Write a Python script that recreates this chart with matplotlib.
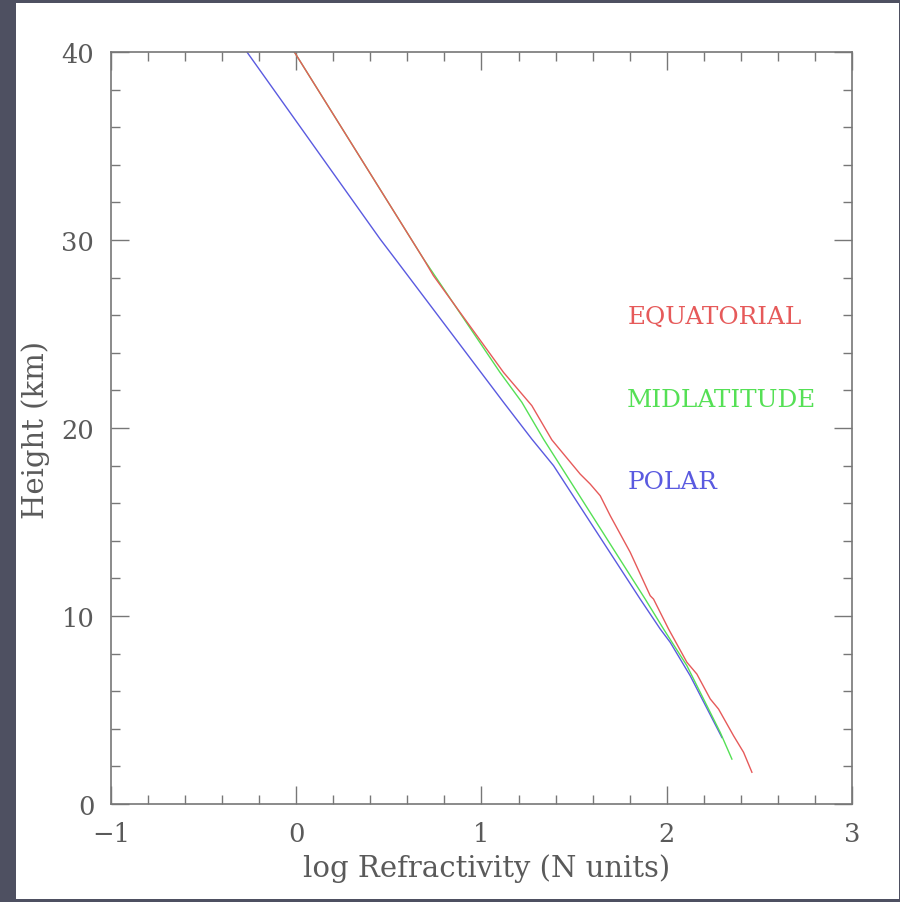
import matplotlib.pyplot as plt
from matplotlib.patches import Rectangle
import numpy as np

# refractivity profiles: height (km) vs log10 N
eq_h = [40, 29.0, 28.1, 22.96, 21.19, 19.37, 17.55, 17.02, 16.4, 15.34, 13.39,
        11.08, 10.9, 9.31, 7.54, 6.91, 5.59, 5.05, 3.63, 2.75, 1.69]
eq_logn = [-0.01, 0.687, 0.741, 1.119, 1.272, 1.38, 1.533, 1.587, 1.641, 1.695, 1.803,
           1.911, 1.929, 2.01, 2.109, 2.163, 2.235, 2.28, 2.361, 2.415, 2.46]

mid_h = [40, 29.0, 22.96, 21.37, 19.41, 10.9, 9.31, 7.36, 3.81, 2.39]
mid_logn = [-0.01, 0.687, 1.10, 1.218, 1.335, 1.884, 1.983, 2.109, 2.289, 2.352]

pol_h = [40, 30.05, 29.0, 21.37, 19.41, 18.0, 10.9, 9.31, 8.6, 6.82, 3.54]
pol_logn = [-0.266, 0.453, 0.534, 1.119, 1.272, 1.389, 1.857, 1.965, 2.019, 2.127, 2.298]

names = ['EQUATORIAL', 'MIDLATITUDE', 'POLAR']
name_y = [25.96, 21.54, 17.18]
colores = ['#e65a5a', '#55e055', '#5a5ae0']

fig = plt.figure(figsize=(9, 9.03), dpi=100, facecolor='#4e5061')
fig.patches.append(Rectangle((16 / 900, 3 / 903), 883 / 900, 896 / 903,
                             transform=fig.transFigure, facecolor='white',
                             edgecolor='none', zorder=-10))

ax = fig.add_axes([0.1233, 0.1085, 0.8233, 0.8328])
ax.set_zorder(5)
ax.set_facecolor('white')

ax.plot(pol_logn, pol_h, color=colores[2], lw=1.0)
ax.plot(mid_logn, mid_h, color=colores[1], lw=1.0)
ax.plot(eq_logn, eq_h, color=colores[0], lw=1.0)

for nome, yy, cor in zip(names, name_y, colores):
    ax.text(1.787, yy, nome, color=cor, fontsize=17.8, family='DejaVu Serif',
            va='center', ha='left')

ax.set_xlim(-1, 3)
ax.set_ylim(0, 40)
ax.set_xticks([-1, 0, 1, 2, 3])
ax.set_yticks([0, 10, 20, 30, 40])
ax.set_xticks(np.arange(-1, 3.01, 0.2), minor=True)
ax.set_yticks(np.arange(0, 40.01, 2), minor=True)

for s in ax.spines.values():
    s.set_color('#777777')
    s.set_linewidth(1.2)

ax.tick_params(which='both', direction='in', top=True, right=True,
               color='#777777', width=1.0)
ax.tick_params(which='major', length=13, pad=12, labelsize=18.5,
               labelcolor='#5a5a5a')
ax.tick_params(which='minor', length=6.5)
for lab in ax.get_xticklabels() + ax.get_yticklabels():
    lab.set_family('DejaVu Serif')

fig.text(487 / 900, 1 - 869 / 903, 'log Refractivity (N units)', fontsize=21,
         family='DejaVu Serif', color='#5a5a5a', ha='center', va='center')
fig.text(36 / 900, 1 - 430 / 903, 'Height (km)', fontsize=21, rotation=90,
         family='DejaVu Serif', color='#5a5a5a', ha='center', va='center')

fig.savefig('out.png', dpi=100, facecolor=fig.get_facecolor())
